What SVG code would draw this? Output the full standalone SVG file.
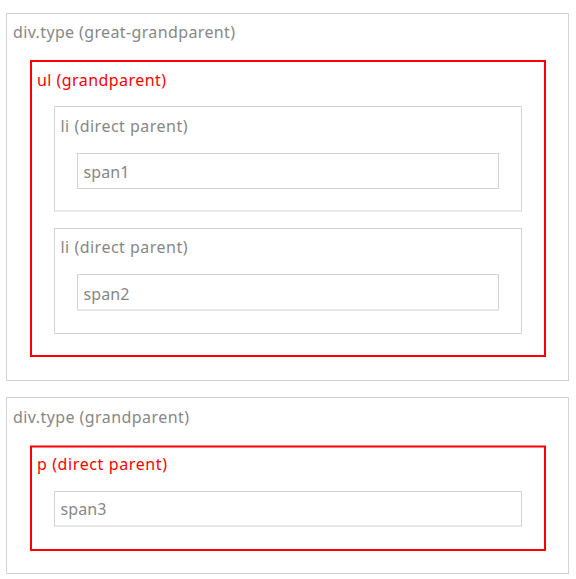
<svg xmlns="http://www.w3.org/2000/svg" width="576" height="579" viewBox="0 0 576 579">
<style>
.box{fill:#fff;stroke:#d3d3d3;stroke-width:1}
.sel{fill:none;stroke:#ff0000;stroke-width:2}
text{font-family:"Noto Sans","Open Sans",sans-serif;font-size:16px;fill:#878787}
.red{fill:#ff0000}
</style>
<rect width="576" height="579" fill="#fff"/>
<g id="div-great-grandparent">
<rect class="box" x="6.5" y="13.5" width="562" height="367"/>
<text x="13" y="38" textLength="222" lengthAdjust="spacing">div.type (great-grandparent)</text>
</g>
<g id="ul-grandparent">
<rect class="sel" x="31" y="61" width="514" height="295"/>
<text class="red" x="37" y="86" textLength="129" lengthAdjust="spacing">ul (grandparent)</text>
</g>
<g id="li1">
<rect class="box" x="54.5" y="106.5" width="467" height="104.5"/>
<text x="60.5" y="131.5" textLength="127" lengthAdjust="spacing">li (direct parent)</text>
</g>
<g id="span1">
<rect class="box" x="77.5" y="153.5" width="421" height="35"/>
<text x="83.5" y="177.5" textLength="46" lengthAdjust="spacing">span1</text>
</g>
<g id="li2">
<rect class="box" x="54.5" y="228.5" width="467" height="105"/>
<text x="60.5" y="253" textLength="127" lengthAdjust="spacing">li (direct parent)</text>
</g>
<g id="span2">
<rect class="box" x="77.5" y="274.5" width="421" height="35.5"/>
<text x="83.5" y="300" textLength="46" lengthAdjust="spacing">span2</text>
</g>
<g id="div-grandparent">
<rect class="box" x="6.5" y="397.5" width="562" height="176"/>
<text x="13" y="422.5" textLength="176" lengthAdjust="spacing">div.type (grandparent)</text>
</g>
<g id="p-direct-parent">
<rect class="sel" x="31" y="446.5" width="514" height="103.5"/>
<text class="red" x="37" y="470" textLength="130" lengthAdjust="spacing">p (direct parent)</text>
</g>
<g id="span3">
<rect class="box" x="54.5" y="491.5" width="467" height="34.5"/>
<text x="60.5" y="515" textLength="46" lengthAdjust="spacing">span3</text>
</g>
<g id="connectors"/>
</svg>
